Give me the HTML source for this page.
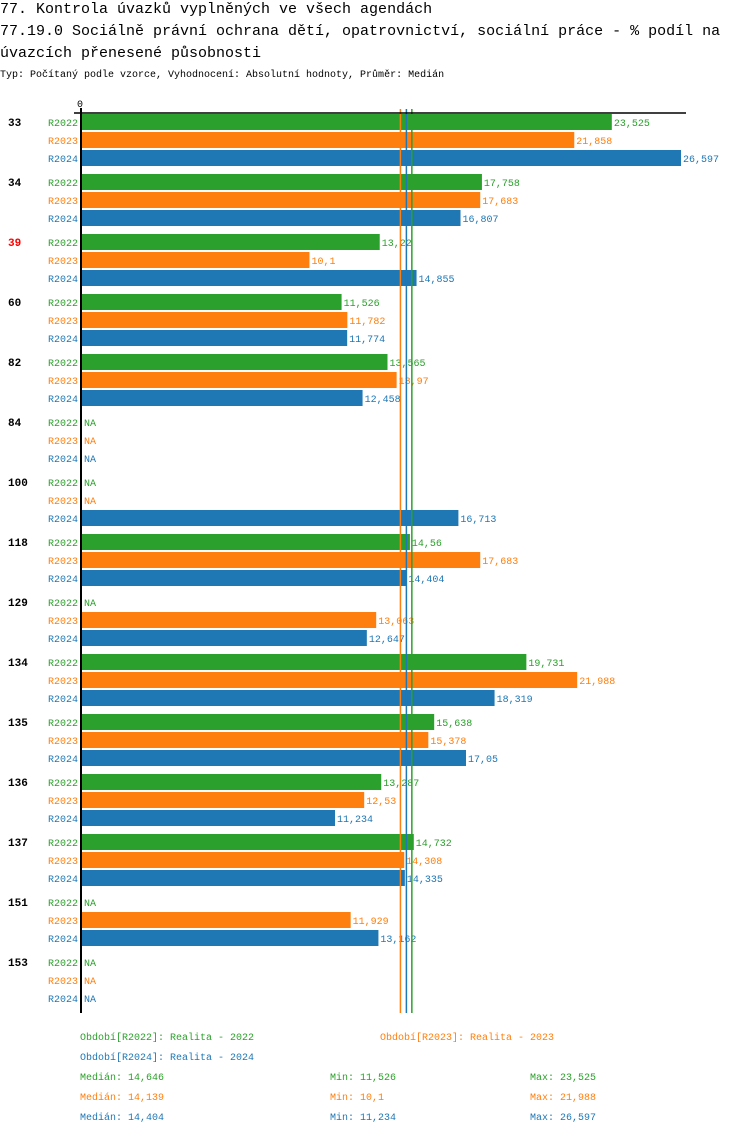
<!DOCTYPE html>
<html><head><meta charset="utf-8">
<style>
body{margin:0;background:#fff;width:750px;height:1134px;overflow:hidden;font-family:"Liberation Mono",monospace;}
svg text{font-family:"Liberation Mono",monospace;}
</style></head>
<body>
<svg id="chart" width="750" height="1134" xmlns="http://www.w3.org/2000/svg">
<text x="0" y="13" font-size="15" fill="#000">77. Kontrola úvazků vyplněných ve všech agendách</text>
<text x="0" y="35" font-size="15" fill="#000">77.19.0 Sociálně právní ochrana dětí, opatrovnictví, sociální práce - % podíl na</text>
<text x="0" y="57" font-size="15" fill="#000">úvazcích přenesené působnosti</text>
<text x="0" y="77" font-size="10" fill="#000">Typ: Počítaný podle vzorce, Vyhodnocení: Absolutní hodnoty, Průměr: Medián</text>
<g id="plot"></g>
</svg>
<script>
const categories=["33","34","39","60","82","84","100","118","129","134","135","136","137","151","153"];
const seriesNames=["R2022","R2023","R2024"];
const r2022=[23.525,17.758,13.22,11.526,13.565,null,null,14.56,null,19.731,15.638,13.287,14.732,null,null];
const r2023=[21.858,17.683,10.1,11.782,13.97,null,null,17.683,13.063,21.988,15.378,12.53,14.308,11.929,null];
const r2024=[26.597,16.807,14.855,11.774,12.458,null,16.713,14.404,12.647,18.319,17.05,11.234,14.335,13.162,null];
const medians=[14.646,14.139,14.404];
const mins=[11.526,10.1,11.234];
const maxs=[23.525,21.988,26.597];
const medianLabels=["14,646","14,139","14,404"];
const minLabels=["11,526","10,1","11,234"];
const maxLabels=["23,525","21,988","26,597"];
const highlighted=["39"];
const colors=["#2ca02c","#ff7f0e","#1f77b4"];
const allSeries=[r2022,r2023,r2024];
const NS="http://www.w3.org/2000/svg";
const g=document.getElementById('plot');
const x0=82, xMaxPx=681, vmax=26.597;
const xs=v=>x0+v*(xMaxPx-x0)/vmax;
const groupY=i=>114+i*60;
const barY=(i,s)=>groupY(i)+s*18;
function el(t,a,txt){const e=document.createElementNS(NS,t);for(const k in a)e.setAttribute(k,a[k]);if(txt!==undefined)e.textContent=txt;g.appendChild(e);return e;}
const fmt=v=>String(v).replace('.',',');
categories.forEach((c,i)=>{
  const t=el('text',{x:8,y:groupY(i)+12,'font-size':11,'font-weight':'bold',fill:highlighted.includes(c)?'#ff0000':'#000'},c);
  
  
  allSeries.forEach((arr,s)=>{
    const y=barY(i,s);
    const l=el('text',{x:78,y:y+12,'font-size':10,'text-anchor':'end',fill:colors[s]},seriesNames[s]);
    
    
    const v=arr[i];
    if(v===null){
      const n=el('text',{x:84,y:y+12,'font-size':10,fill:colors[s]},'NA');
      
      
    } else {
      const r=el('rect',{x:x0,y:y,width:xs(v)-x0,height:16,fill:colors[s]});
      
      
      const vl=el('text',{x:xs(v)+2,y:y+12,'font-size':10,fill:colors[s]},fmt(v));
      
      
    }
  });
});
const medOrder=[1,2,0];
medOrder.forEach(s=>{
  const m=el('line',{x1:xs(medians[s]),x2:xs(medians[s]),y1:109,y2:1013,stroke:colors[s],'stroke-width':1.5});
  
  
});
const ax=el('line',{x1:74,x2:686,y1:113,y2:113,stroke:'#000','stroke-width':1.5});


const ay=el('line',{x1:81,x2:81,y1:108,y2:1013,stroke:'#000','stroke-width':2});


const z=el('text',{x:80,y:107,'font-size':10,'text-anchor':'middle',fill:'#000'},'0');


const legPos=[[80,1040],[380,1040],[80,1060]];
const legNames=["Realita - 2022","Realita - 2023","Realita - 2024"];
seriesNames.forEach((n,s)=>{
  const t=el('text',{x:legPos[s][0],y:legPos[s][1],'font-size':10,fill:colors[s]},'Období['+n+']: '+legNames[s]);
  
  
  const y=1080+s*20;
  const a=el('text',{x:80,y:y,'font-size':10,fill:colors[s]},'Medián: '+medianLabels[s]);
  
  
  const b=el('text',{x:330,y:y,'font-size':10,fill:colors[s]},'Min: '+minLabels[s]);
  
  
  const d=el('text',{x:530,y:y,'font-size':10,fill:colors[s]},'Max: '+maxLabels[s]);
  
  
});
</script>
</body></html>
